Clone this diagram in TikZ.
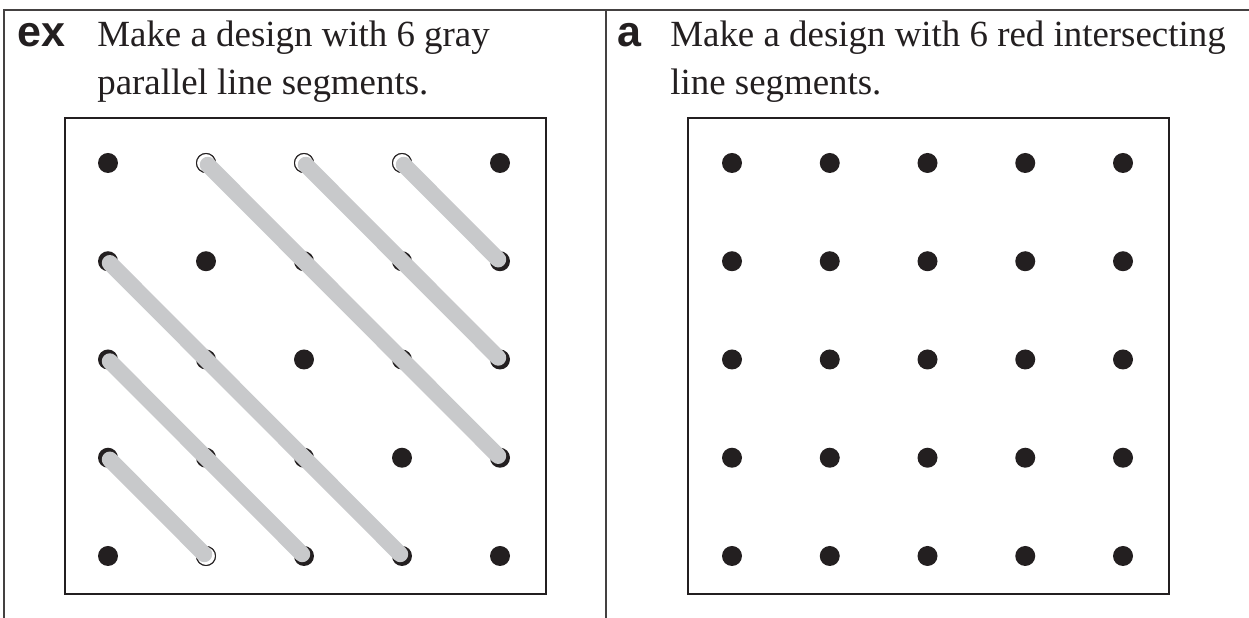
\documentclass[tikz,border=0pt]{standalone}
\usepackage{fontspec}
\setmainfont{Liberation Serif}
\newfontfamily\labelfont{Liberation Sans}
\usepackage{tikz}
\usetikzlibrary{calc}

\definecolor{inkblack}{HTML}{231F20}
\definecolor{bandgray}{HTML}{C8C9CB}

\begin{document}
\begin{tikzpicture}[x=0.02cm,y=0.02cm,
    rule/.style={draw=inkblack!85,line width=0.6pt},
    frame/.style={draw=inkblack,line width=1.5pt},
    peg/.style={circle,fill=inkblack,inner sep=0pt,minimum size=0.4cm},
    ring/.style={circle,fill=white,draw=inkblack,line width=0.6pt,inner sep=0pt,minimum size=0.38cm},
    band/.style={draw=bandgray,line width=0.32cm,line cap=round,shorten <=0.05cm,shorten >=0.05cm},
    tag/.style={anchor=base west,inner sep=0pt,text=inkblack,font=\labelfont\bfseries\fontsize{24.5}{28}\selectfont},
    prompt/.style={anchor=base west,inner sep=0pt,text=inkblack,font=\fontsize{21}{26}\selectfont}]

\useasboundingbox (0,0) rectangle (1249,618);

% Table rules
\draw[rule] (4,0) -- (4,608) -- (1249,608);
\draw[rule] (606,0) -- (606,608);

% Left cell: example
\node[tag] (extag) at (17,571) {ex};
\node[prompt] (exline1) at (97,571) {Make a design with 6 gray};
\node[prompt] (exline2) at ([yshift=-0.96cm]exline1.base west) {parallel line segments.};
\draw[frame] (65,24) rectangle (546,500);

% Left geoboard pegs
\foreach \i in {0,...,4}
  \foreach \j in {0,...,4}
    \node[peg] (l-\i-\j) at (108+98*\i,455-98.25*\j) {};
\foreach \i/\j in {1/0,2/0,3/0,1/4}
  \node[ring] at (l-\i-\j) {};

% Gray parallel bands
\foreach \a/\b in {1-0/4-3,2-0/4-2,3-0/4-1,0-1/3-4,0-2/2-4,0-3/1-4}
  \draw[band] (l-\a.center) -- (l-\b.center);

% Right cell: exercise a
\node[tag] (atag) at (617,571) {a};
\node[prompt] (aline1) at (670,571) {Make a design with 6 red intersecting};
\node[prompt] (aline2) at ([yshift=-0.96cm]aline1.base west) {line segments.};
\draw[frame] (688,24) rectangle (1169,500);

% Right geoboard pegs
\foreach \i in {0,...,4}
  \foreach \j in {0,...,4}
    \node[peg] (r-\i-\j) at (732+97.75*\i,455-98.25*\j) {};

\end{tikzpicture}
\end{document}
